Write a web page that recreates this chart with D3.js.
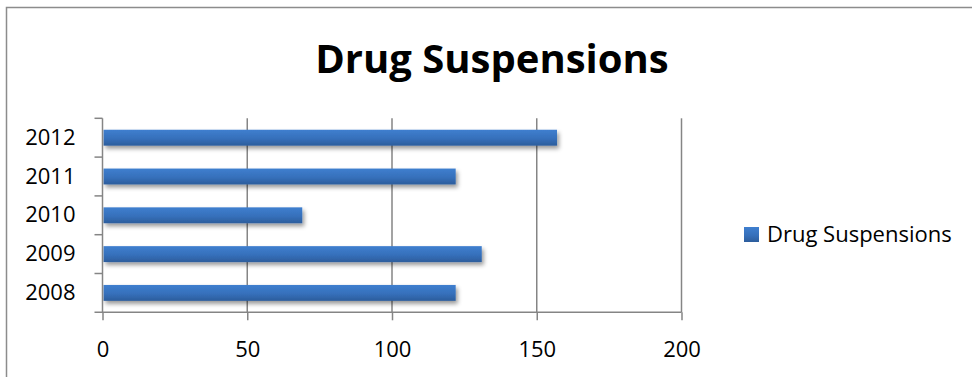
<!DOCTYPE html>
<html>
<head>
<meta charset="utf-8">
<script src="https://cdn.jsdelivr.net/npm/d3@7"></script>
<style>
  body { margin: 0; background: #fff; }
  text { font-family: "Open Sans", "DejaVu Sans", sans-serif; fill: #000; }
</style>
</head>
<body>
<div id="chart"></div>
<script>
// data
var years = ["2008", "2009", "2010", "2011", "2012"];
var suspensions = [122, 131, 69, 122, 157];
var xTicks = [0, 50, 100, 150, 200];
var seriesName = "Drug Suspensions";
var title = "Drug Suspensions";

var W = 972, H = 377;
var plot = {left: 102.5, right: 681.5, top: 118.3, bottom: 312.3};
var axisColor = "#858585";

var svg = d3.select("#chart").append("svg")
  .attr("width", W)
  .attr("height", H);

var defs = svg.append("defs");

var grad = defs.append("linearGradient")
  .attr("id", "barGrad")
  .attr("x1", 0).attr("y1", 0).attr("x2", 0).attr("y2", 1);
grad.append("stop").attr("offset", "0%").attr("stop-color", "#3f7fcf");
grad.append("stop").attr("offset", "55%").attr("stop-color", "#3670bb");
grad.append("stop").attr("offset", "100%").attr("stop-color", "#2c5d9c");

var shadow = defs.append("filter")
  .attr("id", "shadow")
  .attr("x", "-5%").attr("y", "-40%")
  .attr("width", "115%").attr("height", "190%");
shadow.append("feDropShadow")
  .attr("dx", 2).attr("dy", 3)
  .attr("stdDeviation", 2.2)
  .attr("flood-color", "#000")
  .attr("flood-opacity", 0.4);

// outer frame (right / bottom edges run off the picture)
svg.append("rect")
  .attr("x", 6.5).attr("y", 7.5)
  .attr("width", W + 20).attr("height", H + 20)
  .attr("fill", "none")
  .attr("stroke", "#8c8c8c")
  .attr("stroke-width", 1.5);

// title
svg.append("text")
  .attr("x", 492)
  .attr("y", 73)
  .attr("text-anchor", "middle")
  .style("font-size", "40px")
  .style("font-weight", "bold")
  .text(title);

var x = d3.scaleLinear()
  .domain([0, 200])
  .range([plot.left, plot.right]);

var y = d3.scaleBand()
  .domain(years.slice().reverse())
  .range([plot.top, plot.bottom])
  .paddingInner(0.59)
  .paddingOuter(0.295);

// vertical gridlines
svg.append("g")
  .selectAll("line")
  .data(xTicks.slice(1))
  .enter().append("line")
  .attr("x1", function(d) { return x(d); })
  .attr("x2", function(d) { return x(d); })
  .attr("y1", plot.top)
  .attr("y2", plot.bottom)
  .attr("stroke", axisColor)
  .attr("stroke-width", 1.5);

// bars
svg.append("g")
  .selectAll("rect")
  .data(years)
  .enter().append("rect")
  .attr("x", x(0) + 1)
  .attr("y", function(d) { return y(d); })
  .attr("width", function(d, i) { return x(suspensions[i]) - x(0) - 1; })
  .attr("height", y.bandwidth())
  .attr("fill", "url(#barGrad)")
  .attr("filter", "url(#shadow)");

// bottom axis
var xAxis = svg.append("g")
  .attr("transform", "translate(0," + plot.bottom + ")")
  .call(d3.axisBottom(x).tickValues(xTicks).tickSize(8).tickPadding(21));
xAxis.select(".domain")
  .attr("d", "M" + (plot.left - 8) + ",0H" + plot.right);

// left axis, ticks sit on the band edges
var yAxis = svg.append("g")
  .attr("transform", "translate(" + plot.left + ",0)")
  .call(d3.axisLeft(y).tickSize(0).tickPadding(27));
yAxis.select(".domain").remove();
yAxis.append("line")
  .attr("x1", 0).attr("x2", 0)
  .attr("y1", plot.top).attr("y2", plot.bottom)
  .attr("stroke", axisColor).attr("stroke-width", 1.5);
var edges = years.map(function(d, i) { return plot.top + i * y.step(); });
yAxis.selectAll(".edge")
  .data(edges)
  .enter().append("line")
  .attr("class", "edge")
  .attr("x1", -8).attr("x2", 0)
  .attr("y1", function(d) { return d; })
  .attr("y2", function(d) { return d; })
  .attr("stroke", axisColor).attr("stroke-width", 1.5);

[xAxis, yAxis].forEach(function(a) {
  a.selectAll("path, line").attr("stroke", axisColor).attr("stroke-width", 1.5);
  a.selectAll("text")
    .style("font-family", "'Open Sans', sans-serif")
    .style("font-size", "22px")
    .attr("fill", "#000");
});

// legend
var legend = svg.append("g")
  .attr("transform", "translate(744,227)");
legend.append("rect")
  .attr("width", 15).attr("height", 15)
  .attr("fill", "url(#barGrad)");
legend.append("text")
  .attr("x", 23)
  .attr("y", 15)
  .style("font-size", "22px")
  .text(seriesName);
</script>
</body>
</html>
